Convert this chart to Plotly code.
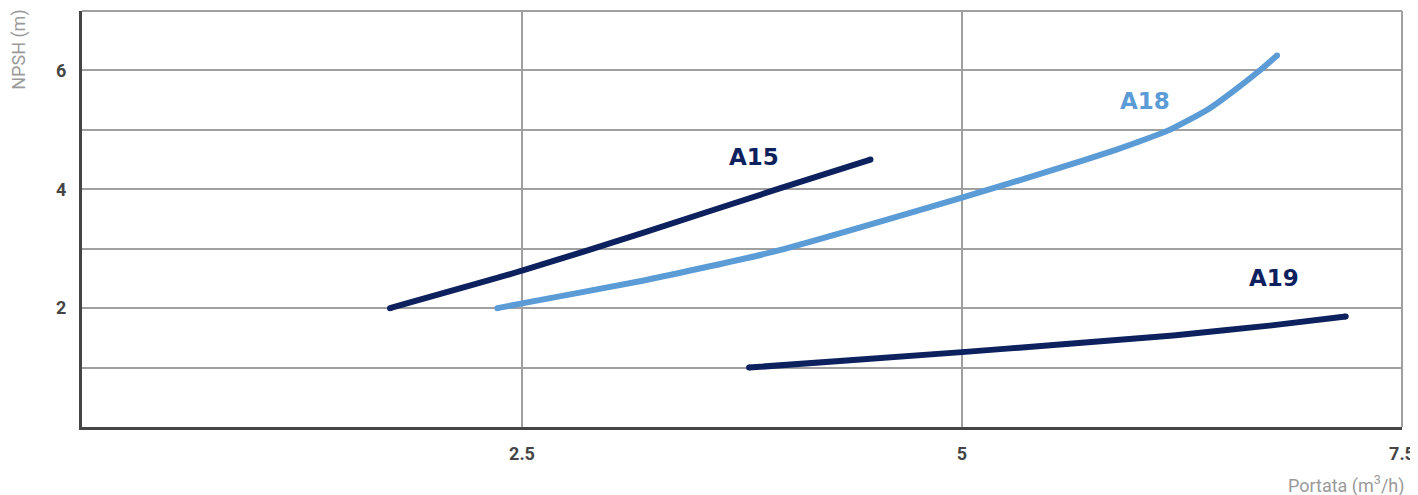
import plotly.graph_objects as go

# Colour palette
NAVY = "#0c215e"
LIGHT_BLUE = "#5b9bd6"
GRID_GREY = "#a0a0a0"
AXIS_DARK = "#454545"
TITLE_GREY = "#9a9a9a"

# Curve data (portata m3/h, NPSH m)
a15_q = [1.75, 2.5, 3.2, 3.96, 4.48]
a15_h = [2.0, 2.63, 3.28, 4.01, 4.5]

a18_q = [2.36, 2.5, 3.2, 3.93, 5.0, 5.49, 5.87, 6.05, 6.18, 6.39, 6.55, 6.70, 6.79]
a18_h = [2.0, 2.08, 2.47, 2.95, 3.86, 4.3, 4.66, 4.85, 5.0, 5.33, 5.67, 6.02, 6.25]

a19_q = [3.79, 5.0, 5.52, 6.2, 6.76, 7.18]
a19_h = [1.0, 1.26, 1.38, 1.54, 1.71, 1.86]

curve_names = ["A15", "A18", "A19"]
label_q = [3.82, 6.04, 6.77]
label_h = [4.54, 5.48, 2.50]

# Axis ticks
x_ticks = [2.5, 5, 7.5]
x_ticktext = ["2.5", "5", "7.5"]
y_ticks = [1, 2, 3, 4, 5, 6, 7]
y_ticktext = ["", "2", "", "4", "", "6", ""]

series = [
    (a15_q, a15_h, NAVY),
    (a18_q, a18_h, LIGHT_BLUE),
    (a19_q, a19_h, NAVY),
]

fig = go.Figure()

for (q, h, color), name in zip(series, curve_names):
    fig.add_trace(go.Scatter(
        x=q, y=h, mode="lines", name=name,
        line=dict(color=color, width=6, shape="spline", smoothing=0.5),
        hoverinfo="skip", showlegend=False,
    ))
    # round end caps
    fig.add_trace(go.Scatter(
        x=[q[0], q[-1]], y=[h[0], h[-1]], mode="markers",
        marker=dict(color=color, size=6, line=dict(width=0)),
        hoverinfo="skip", showlegend=False,
    ))

label_colors = [NAVY, LIGHT_BLUE, NAVY]
for name, q, h, color in zip(curve_names, label_q, label_h, label_colors):
    fig.add_annotation(
        x=q, y=h, text=f"<b>{name}</b>", showarrow=False,
        font=dict(family="DejaVu Sans", size=23, color=color),
    )

# Axis titles
fig.add_annotation(
    xref="paper", yref="paper", x=-0.048, y=1.007,
    xanchor="center", yanchor="top", textangle=-90,
    text="NPSH (m)", showarrow=False,
    font=dict(family="Roboto", size=18, color=TITLE_GREY),
)
fig.add_annotation(
    xref="paper", yref="paper", x=1.004, y=-0.139,
    xanchor="right", yanchor="middle",
    text="Portata (m<sup>3</sup>/h)", showarrow=False,
    font=dict(family="Roboto", size=18, color=TITLE_GREY),
)

# grey frame on top and right (gridlines at range ends are not drawn)
fig.add_shape(type="line", xref="paper", yref="paper", x0=0, x1=1, y0=1, y1=1,
              line=dict(color=GRID_GREY, width=2))
fig.add_shape(type="line", xref="paper", yref="paper", x0=1, x1=1, y0=0, y1=1,
              line=dict(color=GRID_GREY, width=2))

# the page keeps its 8px body margin, so the figure is a bit smaller than the window
fig.update_layout(
    width=1410, height=487,
    margin=dict(l=74, r=13, t=3, b=68),
    plot_bgcolor="white", paper_bgcolor="white",
    xaxis=dict(
        range=[0, 7.5], tickvals=x_ticks, ticktext=x_ticktext,
        showgrid=True, gridcolor=GRID_GREY, gridwidth=2,
        zeroline=False, showline=True, linecolor=AXIS_DARK, linewidth=3,
        ticks="", ticklabelstandoff=8,
        tickfont=dict(family="Roboto", size=18, color=AXIS_DARK, weight="bold"),
    ),
    yaxis=dict(
        range=[0, 7], tickvals=y_ticks, ticktext=y_ticktext,
        showgrid=True, gridcolor=GRID_GREY, gridwidth=2,
        zeroline=False, showline=True, linecolor=AXIS_DARK, linewidth=3,
        ticks="", ticklabelstandoff=9,
        tickfont=dict(family="Roboto", size=18, color=AXIS_DARK, weight="bold"),
    ),
)

fig.write_html("out.html", config={"displayModeBar": False})
